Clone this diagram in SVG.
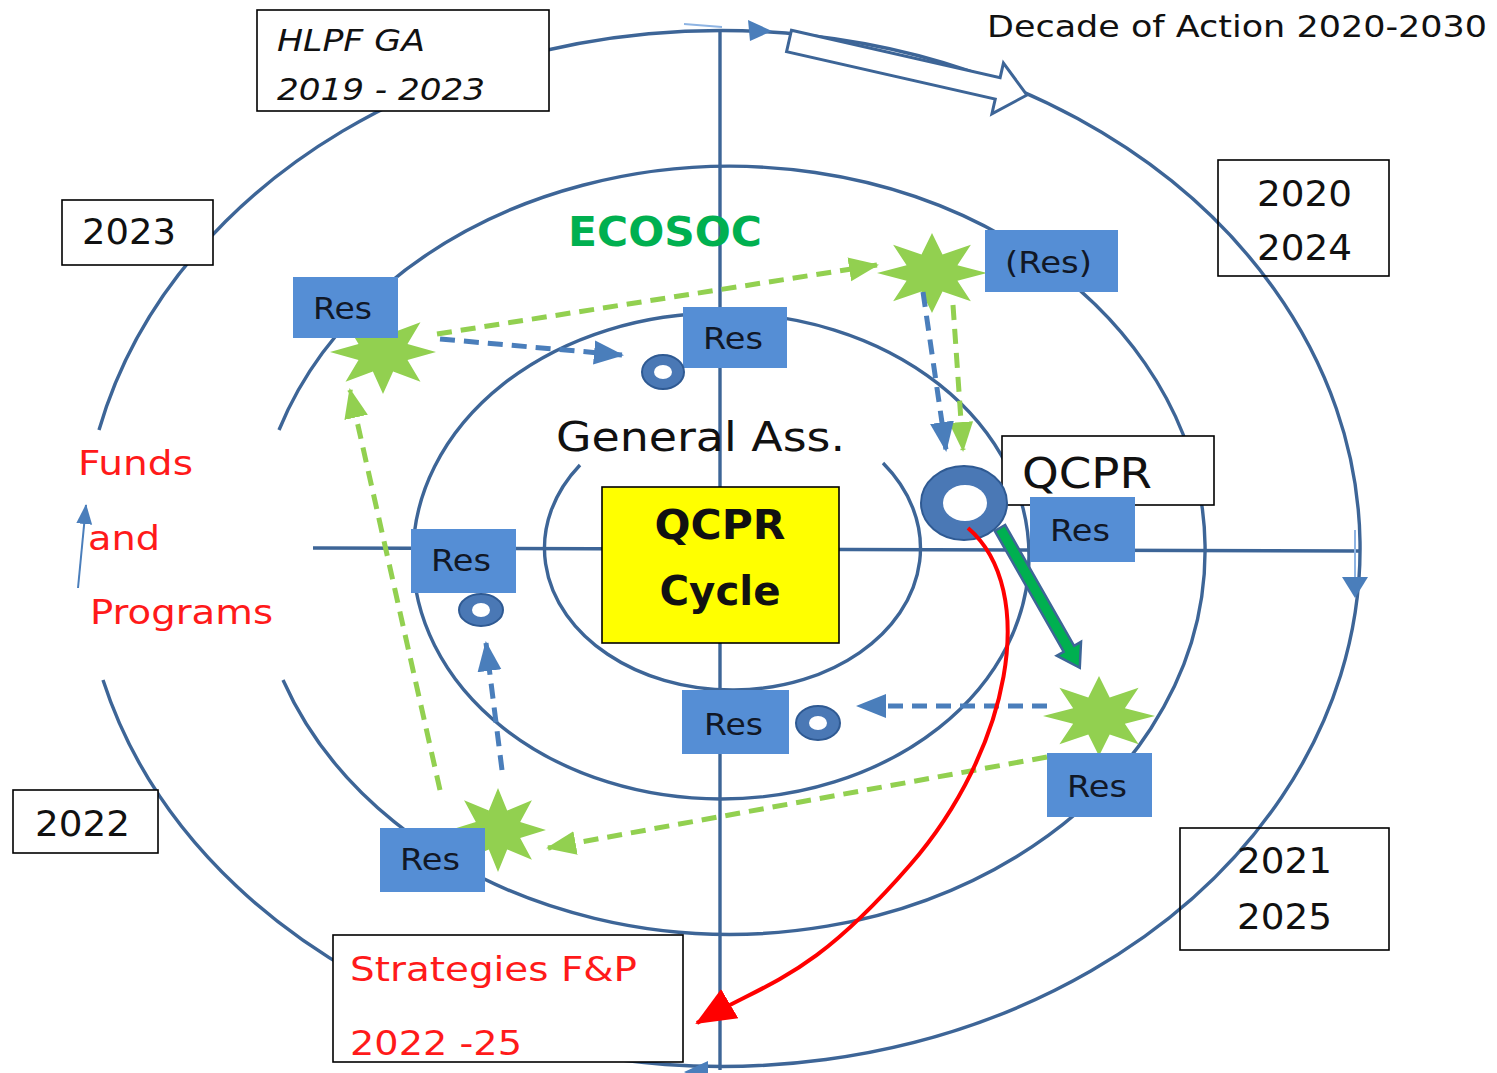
<svg xmlns="http://www.w3.org/2000/svg" width="1497" height="1073" viewBox="0 0 1497 1073">
<style>
.ring{fill:none;stroke:#3D6597;stroke-width:3.4}
.axis{fill:none;stroke:#3D6597;stroke-width:3.4}
.box{fill:#fff;stroke:#000;stroke-width:1.6}
.tbox{fill:none;stroke:#000;stroke-width:1.6}
.res{fill:#558ED5}
.t{font-family:"DejaVu Sans",Verdana,sans-serif;fill:#111}
.rt{font-family:"DejaVu Sans",Verdana,sans-serif;fill:#111827;font-size:30px}
.red{fill:#FF1A1A}
.gdash{fill:none;stroke:#92D050;stroke-width:5;stroke-dasharray:15 9}
.bdash{fill:none;stroke:#4A7EBB;stroke-width:5;stroke-dasharray:15 9}
.star{fill:#92D050}
.donut{fill:#4A78B5;stroke:#2F5A93;stroke-width:2}
</style>
<defs>
<polygon id="star" points="0,-1 0.191,-0.462 0.707,-0.707 0.462,-0.191 1,0 0.462,0.191 0.707,0.707 0.191,0.462 0,1 -0.191,0.462 -0.707,0.707 -0.462,0.191 -1,0 -0.462,-0.191 -0.707,-0.707 -0.191,-0.462"/>
<marker id="gh" markerUnits="userSpaceOnUse" markerWidth="30" markerHeight="30" viewBox="0 0 30 30" refX="28" refY="15" orient="auto"><path d="M0,3 L30,15 L0,27 z" fill="#92D050"/></marker>
<marker id="bh" markerUnits="userSpaceOnUse" markerWidth="30" markerHeight="30" viewBox="0 0 30 30" refX="28" refY="15" orient="auto"><path d="M0,3 L30,15 L0,27 z" fill="#4A7EBB"/></marker>
<marker id="rh" markerUnits="userSpaceOnUse" markerWidth="40" markerHeight="40" viewBox="0 0 40 40" refX="38" refY="20" orient="auto"><path d="M0,3 L40,20 L0,37 z" fill="#FF0000"/></marker>
<marker id="sh" markerUnits="userSpaceOnUse" markerWidth="20" markerHeight="20" viewBox="0 0 20 20" refX="19" refY="10" orient="auto"><path d="M0,2 L20,10 L0,18 z" fill="#4A7EBB"/></marker>
</defs>

<g id="rings">
<path class="ring" d="M 99 430 A 639 518 0 1 1 103 680"/>
<path class="ring" d="M 279 430 A 475 384 0 1 1 283 680"/>
<ellipse class="ring" cx="721" cy="556" rx="308" ry="243"/>
<path class="ring" d="M 580 465 A 188 142 0 1 0 883 463"/>
<line class="axis" x1="720" y1="30" x2="720" y2="1070"/>
<line class="axis" x1="313" y1="548" x2="1360" y2="551"/>
<line x1="684" y1="24" x2="722" y2="27" stroke="#8EB4E3" stroke-width="2"/>
<line x1="1355" y1="530" x2="1355" y2="580" stroke="#8EB4E3" stroke-width="2"/>
<polygon points="772,31 748,20 750,41" fill="#4A7EBB"/>
<polygon points="1342,577 1368,577 1355,598" fill="#4A7EBB"/>
<polygon points="684,1072 708,1061 708,1084" fill="#4A7EBB"/>
<polygon points="0,-11 214,-11 214,-26 244,0 214,26 214,11 0,11" transform="translate(789,41) rotate(12.8)" fill="#fff" stroke="#3D6597" stroke-width="3"/>
</g>

<g id="label-decade"><text class="t" x="987" y="37" font-size="30" textLength="500" lengthAdjust="spacingAndGlyphs">Decade of Action 2020-2030</text></g>

<g id="box-hlpf">
<rect class="box" x="257" y="10" width="292" height="101"/>
<text class="t" x="277" y="51" font-size="30" font-style="italic" textLength="148" lengthAdjust="spacingAndGlyphs">HLPF GA</text>
<text class="t" x="277" y="100" font-size="30" font-style="italic" textLength="208" lengthAdjust="spacingAndGlyphs">2019 - 2023</text>
</g>
<g id="box-2023">
<rect class="box" x="62" y="200" width="151" height="65"/>
<text class="t" x="82" y="244" font-size="36" textLength="94" lengthAdjust="spacingAndGlyphs">2023</text>
</g>
<g id="box-2020">
<rect class="tbox" x="1218" y="160" width="171" height="116"/>
<text class="t" x="1257" y="206" font-size="36" textLength="95" lengthAdjust="spacingAndGlyphs">2020</text>
<text class="t" x="1257" y="260" font-size="36" textLength="95" lengthAdjust="spacingAndGlyphs">2024</text>
</g>
<g id="box-2022">
<rect class="box" x="13" y="790" width="145" height="63"/>
<text class="t" x="35" y="836" font-size="36" textLength="95" lengthAdjust="spacingAndGlyphs">2022</text>
</g>
<g id="box-2021">
<rect class="tbox" x="1180" y="828" width="209" height="122"/>
<text class="t" x="1237" y="873" font-size="36" textLength="95" lengthAdjust="spacingAndGlyphs">2021</text>
<text class="t" x="1237" y="929" font-size="36" textLength="95" lengthAdjust="spacingAndGlyphs">2025</text>
</g>
<g id="box-strategies">
<rect class="box" x="333" y="935" width="350" height="127"/>
<text class="t red" x="350" y="981" font-size="34" textLength="287" lengthAdjust="spacingAndGlyphs">Strategies F&amp;P</text>
<text class="t red" x="350" y="1055" font-size="34" textLength="172" lengthAdjust="spacingAndGlyphs">2022 -25</text>
</g>

<g id="label-ecosoc"><text class="t" x="568" y="246" font-size="40" font-weight="bold" style="fill:#00B050" textLength="194" lengthAdjust="spacingAndGlyphs">ECOSOC</text></g>
<g id="label-ga"><text class="t" x="556" y="451" font-size="40" textLength="289" lengthAdjust="spacingAndGlyphs">General Ass.</text></g>
<g id="label-funds">
<text class="t red" x="78" y="475" font-size="34" textLength="115" lengthAdjust="spacingAndGlyphs">Funds</text>
<text class="t red" x="88" y="550" font-size="34" textLength="72" lengthAdjust="spacingAndGlyphs">and</text>
<text class="t red" x="90" y="624" font-size="34" textLength="183" lengthAdjust="spacingAndGlyphs">Programs</text>
</g>

<g id="qcpr-cycle">
<rect x="602" y="487" width="237" height="156" fill="#FFFF00" stroke="#000" stroke-width="1.6"/>
<text class="t" x="720" y="539" font-size="40" font-weight="bold" text-anchor="middle" textLength="131" lengthAdjust="spacingAndGlyphs">QCPR</text>
<text class="t" x="720" y="605" font-size="40" font-weight="bold" text-anchor="middle" textLength="121" lengthAdjust="spacingAndGlyphs">Cycle</text>
</g>

<g id="qcpr-box">
<rect class="box" x="1002" y="436" width="212" height="69"/>
<text class="t" x="1022" y="488" font-size="42" textLength="130" lengthAdjust="spacingAndGlyphs">QCPR</text>
</g>

<g id="stars">
<use href="#star" class="star" transform="translate(383,352) scale(53,42)"/>
<use href="#star" class="star" transform="translate(932,273) scale(55,40)"/>
<use href="#star" class="star" transform="translate(1099,716) scale(56,40)"/>
<use href="#star" class="star" transform="translate(498,830) scale(48,42)"/>
</g>

<g id="res-boxes">
<g id="res1"><rect class="res" x="293" y="277" width="105" height="61"/><text class="rt" x="313" y="319" textLength="59" lengthAdjust="spacingAndGlyphs">Res</text></g>
<g id="res2"><rect class="res" x="683" y="307" width="104" height="61"/><text class="rt" x="703" y="349" textLength="60" lengthAdjust="spacingAndGlyphs">Res</text></g>
<g id="res3"><rect class="res" x="985" y="230" width="133" height="62"/><text class="rt" x="1005" y="273" textLength="87" lengthAdjust="spacingAndGlyphs">(Res)</text></g>
<g id="res4"><rect class="res" x="411" y="529" width="105" height="64"/><text class="rt" x="431" y="571" textLength="60" lengthAdjust="spacingAndGlyphs">Res</text></g>
<g id="res5"><rect class="res" x="1030" y="497" width="105" height="65"/><text class="rt" x="1050" y="541" textLength="60" lengthAdjust="spacingAndGlyphs">Res</text></g>
<g id="res6"><rect class="res" x="682" y="690" width="107" height="64"/><text class="rt" x="704" y="735" textLength="59" lengthAdjust="spacingAndGlyphs">Res</text></g>
<g id="res7"><rect class="res" x="1047" y="753" width="105" height="64"/><text class="rt" x="1067" y="797" textLength="60" lengthAdjust="spacingAndGlyphs">Res</text></g>
<g id="res8"><rect class="res" x="380" y="828" width="105" height="64"/><text class="rt" x="400" y="870" textLength="60" lengthAdjust="spacingAndGlyphs">Res</text></g>
</g>

<g id="donuts">
<g id="donut1"><ellipse class="donut" cx="663" cy="372" rx="21" ry="17"/><ellipse cx="663" cy="372" rx="9" ry="7" fill="#fff"/></g>
<g id="donut2"><ellipse class="donut" cx="481" cy="610" rx="22" ry="16"/><ellipse cx="481" cy="610" rx="9" ry="7" fill="#fff"/></g>
<g id="donut3"><ellipse class="donut" cx="818" cy="723" rx="22" ry="17"/><ellipse cx="818" cy="723" rx="9" ry="7" fill="#fff"/></g>
<g id="donut-qcpr"><ellipse class="donut" cx="964" cy="503" rx="43" ry="37"/><ellipse cx="965" cy="503" rx="22" ry="18" fill="#fff"/></g>
</g>

<g id="connectors">
<line class="gdash" x1="437" y1="334" x2="877" y2="265" marker-end="url(#gh)"/>
<line class="bdash" x1="440" y1="339" x2="622" y2="355" marker-end="url(#bh)"/>
<line class="gdash" x1="953" y1="305" x2="963" y2="450" marker-end="url(#gh)"/>
<line class="bdash" x1="923" y1="292" x2="946" y2="450" marker-end="url(#bh)"/>
<line class="gdash" x1="1047" y1="757" x2="548" y2="848" marker-end="url(#gh)"/>
<line class="bdash" x1="1047" y1="706" x2="858" y2="706" marker-end="url(#bh)"/>
<line class="gdash" x1="440" y1="790" x2="350" y2="390" marker-end="url(#gh)"/>
<line class="bdash" x1="502" y1="770" x2="486" y2="643" marker-end="url(#bh)"/>
<line x1="78" y1="588" x2="86" y2="505" stroke="#4A7EBB" stroke-width="2" marker-end="url(#sh)"/>
<path d="M 968 528 C 1040 590, 1010 750, 910 865 S 770 980, 697 1023" fill="none" stroke="#FF0000" stroke-width="4" marker-end="url(#rh)"/>
<polygon points="0,-6 139,-6 139,-14 161,0 139,14 139,6 0,6" transform="translate(1000,528) rotate(60.3)" fill="#00B050" stroke="#3D6597" stroke-width="2.5"/>
</g>
</svg>
